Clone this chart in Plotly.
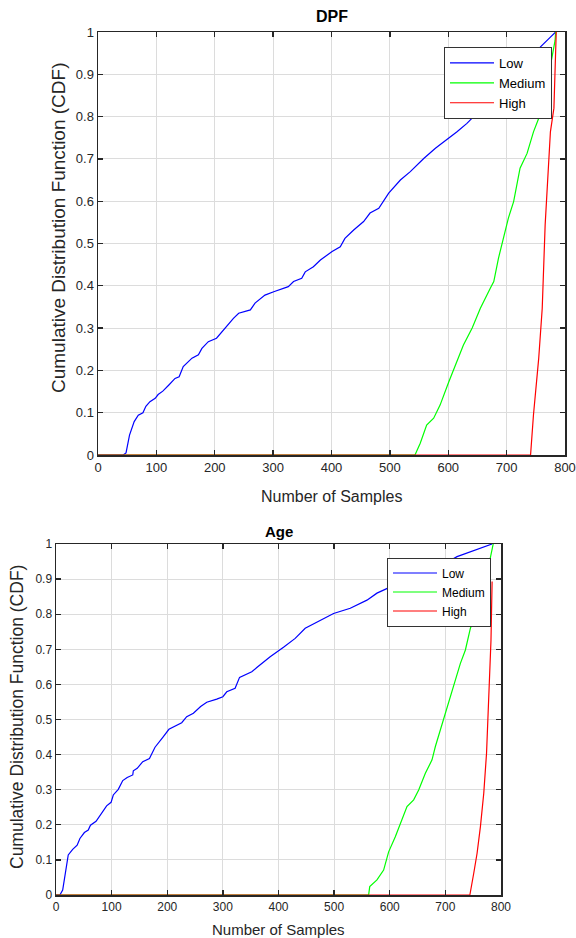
import plotly.graph_objects as go

# ---------------- DATA ----------------
# DPF panel
dpf_low_x = [0, 43, 48, 54, 62, 69, 77, 82, 89, 98, 103, 111, 121, 132, 139, 146, 161, 172, 178, 189,
             203, 215, 232, 241, 261, 269, 286, 301, 326, 335, 349, 355, 369, 381, 401, 415, 423, 438,
             455, 466, 481, 498, 518, 535, 558, 578, 598, 615, 632, 643, 665, 690, 715, 740, 758, 775, 784]
dpf_low_y = [0, 0, 0.005, 0.047, 0.079, 0.094, 0.10, 0.115, 0.126, 0.134, 0.143, 0.151, 0.165, 0.181,
             0.185, 0.209, 0.229, 0.237, 0.252, 0.268, 0.276, 0.296, 0.323, 0.335, 0.343, 0.359, 0.378,
             0.386, 0.398, 0.41, 0.418, 0.433, 0.445, 0.461, 0.481, 0.492, 0.512, 0.532, 0.552, 0.572,
             0.583, 0.619, 0.650, 0.670, 0.701, 0.725, 0.745, 0.764, 0.784, 0.80, 0.83, 0.86, 0.89,
             0.93, 0.965, 0.988, 1.0]

dpf_med_x = [0, 543, 552, 563, 575, 586, 601, 612, 626, 641, 655, 672, 678, 686, 695, 703, 712, 723,
             735, 746, 755, 765, 775, 783, 784]
dpf_med_y = [0, 0, 0.028, 0.071, 0.087, 0.118, 0.173, 0.213, 0.26, 0.30, 0.347, 0.394, 0.41, 0.465,
             0.512, 0.56, 0.599, 0.678, 0.713, 0.764, 0.796, 0.86, 0.92, 0.98, 1.0]

dpf_high_x = [0, 741, 746, 755, 761, 766, 775, 781, 785]
dpf_high_y = [0, 0, 0.095, 0.229, 0.347, 0.544, 0.764, 0.82, 1.0]

# Age panel
age_low_x = [0, 7, 12, 16, 22, 30, 38, 43, 51, 58, 62, 72, 80, 91, 99, 103, 112, 120, 128, 138, 139,
             146, 156, 168, 178, 187, 192, 203, 214, 226, 235, 247, 260, 271, 289, 300, 307, 322, 330,
             352, 361, 385, 409, 430, 448, 475, 499, 529, 559, 577, 595, 625, 660, 700, 721, 745, 769, 784]
age_low_y = [0, 0, 0.014, 0.052, 0.114, 0.13, 0.142, 0.161, 0.178, 0.185, 0.199, 0.21, 0.23, 0.254,
             0.264, 0.285, 0.301, 0.326, 0.335, 0.342, 0.354, 0.361, 0.38, 0.389, 0.421, 0.437, 0.449,
             0.472, 0.482, 0.491, 0.508, 0.518, 0.537, 0.549, 0.558, 0.565, 0.579, 0.589, 0.62, 0.636,
             0.648, 0.679, 0.706, 0.731, 0.76, 0.783, 0.802, 0.817, 0.84, 0.86, 0.874, 0.895, 0.92,
             0.945, 0.964, 0.978, 0.99, 1.0]

age_med_x = [0, 562, 564, 577, 589, 598, 610, 622, 631, 643, 652, 664, 676, 682, 691, 700, 709, 718,
             727, 736, 745, 757, 766, 775, 786]
age_med_y = [0, 0, 0.024, 0.043, 0.071, 0.123, 0.166, 0.214, 0.252, 0.271, 0.299, 0.347, 0.385, 0.423,
             0.47, 0.518, 0.565, 0.613, 0.66, 0.698, 0.76, 0.812, 0.86, 0.916, 1.0]

age_high_x = [0, 744, 751, 757, 763, 769, 774, 778, 781, 782, 784]
age_high_y = [0, 0, 0.062, 0.119, 0.195, 0.29, 0.404, 0.565, 0.674, 0.726, 0.893]

series_names = ["Low", "Medium", "High"]
series_colors = ["#0000ff", "#00ff00", "#ff0000"]
x_ticks = [0, 100, 200, 300, 400, 500, 600, 700, 800]
y_ticks = [0, 0.1, 0.2, 0.3, 0.4, 0.5, 0.6, 0.7, 0.8, 0.9, 1]
y_ticklabels = ["0", "0.1", "0.2", "0.3", "0.4", "0.5", "0.6", "0.7", "0.8", "0.9", "1"]
panel_titles = ["DPF", "Age"]
x_title = "Number of Samples"
y_title = "Cumulative Distribution Function (CDF)"

# ---------------- FIGURE ----------------
W, H = 576, 938
FONT = "Liberation Sans, Arial, sans-serif"
TXT = "#262626"

fig = go.Figure()

panels = [
    (dpf_low_x, dpf_low_y, dpf_med_x, dpf_med_y, dpf_high_x, dpf_high_y),
    (age_low_x, age_low_y, age_med_x, age_med_y, age_high_x, age_high_y),
]
axis_ids = [("x", "y", "legend"), ("x2", "y2", "legend2")]

for p, (data, (xa, ya, lg)) in enumerate(zip(panels, axis_ids)):
    xs = [data[0], data[2], data[4]]
    ys = [data[1], data[3], data[5]]
    for name, color, xv, yv in zip(series_names, series_colors, xs, ys):
        fig.add_trace(go.Scatter(x=xv, y=yv, mode="lines", name=name,
                                 line=dict(color=color, width=1.2),
                                 hoverinfo="skip",
                                 xaxis=xa, yaxis=ya, legend=lg))

# pixel geometry of the two plot areas
top = dict(x0=98, x1=565, y0=32, y1=455)
bot = dict(x0=56, x1=501, y0=544, y1=895)


def dom(g):
    return [g["x0"] / W, g["x1"] / W], [1 - g["y1"] / H, 1 - g["y0"] / H]


def xaxis_style(domain, anchor, size):
    return dict(domain=domain, anchor=anchor, range=[0, 800], tickvals=x_ticks,
                ticks="inside", ticklen=5, tickwidth=1.3, tickcolor=TXT,
                showline=True, linecolor=TXT, linewidth=1.5, mirror="ticks",
                showgrid=True, gridcolor="#dcdcdc", gridwidth=1, zeroline=False,
                automargin=False, fixedrange=True,
                tickfont=dict(family=FONT, size=size, color=TXT))


def yaxis_style(domain, anchor, size):
    return dict(domain=domain, anchor=anchor, range=[0, 1], tickvals=y_ticks,
                ticktext=y_ticklabels,
                ticks="inside", ticklen=5, tickwidth=1.3, tickcolor=TXT,
                showline=True, linecolor=TXT, linewidth=1.5, mirror="ticks",
                showgrid=True, gridcolor="#dcdcdc", gridwidth=1, zeroline=False,
                automargin=False, fixedrange=True,
                tickfont=dict(family=FONT, size=size, color=TXT))


tx, ty = dom(top)
bx, by = dom(bot)

legend_common = dict(bgcolor="white", bordercolor="#333333", borderwidth=1,
                     xanchor="left", yanchor="top", itemwidth=44,
                     tracegroupgap=0, itemclick=False, itemdoubleclick=False)

fig.update_layout(
    width=W, height=H,
    margin=dict(l=0, r=0, t=0, b=0, pad=0, autoexpand=False),
    paper_bgcolor="white", plot_bgcolor="white",
    showlegend=True, hovermode=False, dragmode=False,
    xaxis=xaxis_style(tx, "y", 13),
    yaxis=yaxis_style(ty, "x", 13),
    xaxis2=xaxis_style(bx, "y2", 12),
    yaxis2=yaxis_style(by, "x2", 12),
    legend=dict(x=444 / W, y=1 - 47 / H, font=dict(family=FONT, size=13, color="black"),
                **legend_common),
    legend2=dict(x=387 / W, y=1 - 557.5 / H, font=dict(family=FONT, size=12, color="black"),
                 **legend_common),
)

annots = [
    # titles
    dict(text="<b>" + panel_titles[0] + "</b>", x=(top["x0"] + top["x1"]) / 2 / W, y=1 - 17 / H,
         font=dict(family=FONT, size=16, color="black")),
    dict(text="<b>" + panel_titles[1] + "</b>", x=(bot["x0"] + bot["x1"]) / 2 / W, y=1 - 531 / H,
         font=dict(family=FONT, size=15, color="black")),
    # x titles
    dict(text=x_title, x=(top["x0"] + top["x1"]) / 2 / W, y=1 - 496 / H,
         font=dict(family=FONT, size=16, color=TXT)),
    dict(text=x_title, x=(bot["x0"] + bot["x1"]) / 2 / W, y=1 - 929 / H,
         font=dict(family=FONT, size=15, color=TXT)),
    # y titles
    dict(text=y_title, x=58 / W, y=1 - 228 / H, textangle=-90,
         font=dict(family=FONT, size=19, color=TXT)),
    dict(text=y_title, x=17 / W, y=1 - 717 / H, textangle=-90,
         font=dict(family=FONT, size=17.5, color=TXT)),
]
for a in annots:
    fig.add_annotation(xref="paper", yref="paper", showarrow=False,
                       xanchor="center", yanchor="middle", **a)

fig.write_html(
    "out.html",
    config={"displayModeBar": False, "staticPlot": True},
    post_script="document.body.style.margin='0';document.body.style.padding='0';"
                "document.body.style.overflow='hidden';",
)
